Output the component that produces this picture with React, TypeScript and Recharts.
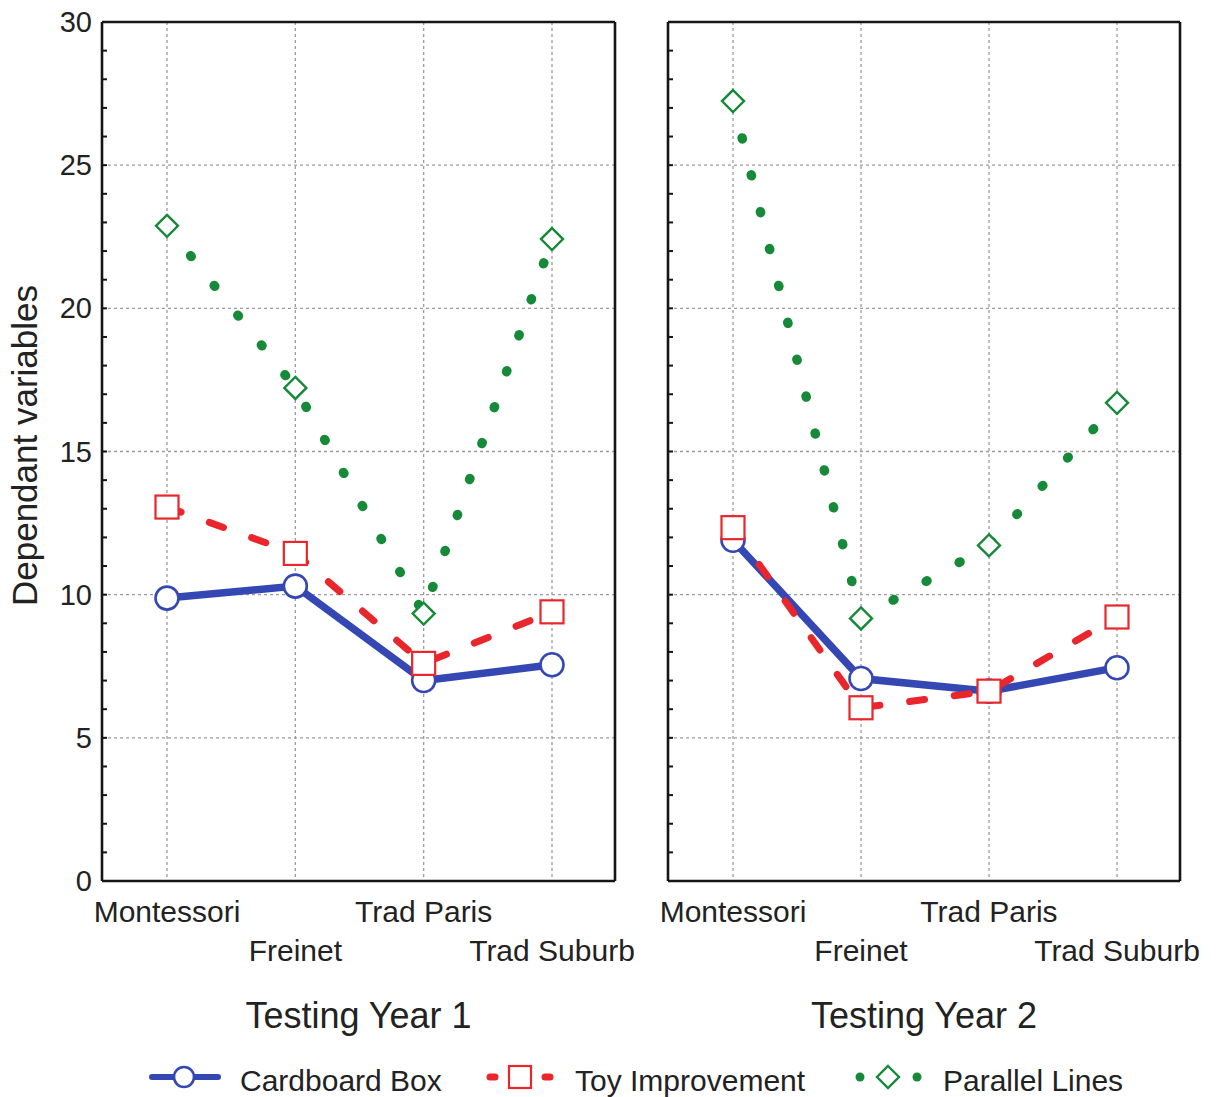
import React from 'react';
import { LineChart, Line, XAxis, YAxis, CartesianGrid, Label } from 'recharts';

const categories = ['Montessori', 'Freinet', 'Trad Paris', 'Trad Suburb'];
const year1Cardboard = [9.88, 10.3, 7.0, 7.55];
const year1Toy = [13.06, 11.44, 7.6, 9.4];
const year1Parallel = [22.88, 17.22, 9.34, 22.42];
const year2Cardboard = [11.9, 7.07, 6.63, 7.45];
const year2Toy = [12.34, 6.05, 6.63, 9.22];
const year2Parallel = [27.24, 9.17, 11.72, 16.7];
const yTicks = [0, 5, 10, 15, 20, 25, 30];
const minorTicks = [0, 1, 2, 3, 4, 5, 6, 7, 8, 9, 10, 11, 12, 13, 14, 15, 16, 17, 18, 19, 20, 21, 22, 23, 24, 25, 26, 27, 28, 29, 30];
const frameTicks = [0, 1];
const panelTitles = ['Testing Year 1', 'Testing Year 2'];
const seriesNames = ['Cardboard Box', 'Toy Improvement', 'Parallel Lines'];
const yAxisTitle = 'Dependant variables';

const FONT = '"Liberation Sans", Arial, Helvetica, sans-serif';
const BLUE = '#3447b3';
const RED = '#e8262b';
const GREEN = '#178a3a';
const FRAME = '#151515';

const buildData = (cb: number[], toy: number[], par: number[]) =>
  categories.map((name, i) => ({ name, cardboard: cb[i], toy: toy[i], parallel: par[i] }));

const year1Data = buildData(year1Cardboard, year1Toy, year1Parallel);
const year2Data = buildData(year2Cardboard, year2Toy, year2Parallel);

const CircleDot = (props: any) => {
  const { cx, cy, index } = props;
  if (cx == null || cy == null) return <g key={`c${index}`} />;
  return <circle key={`c${index}`} cx={cx} cy={cy} r={11.5} fill="#fff" stroke={BLUE} strokeWidth={2.6} />;
};
const SquareDot = (props: any) => {
  const { cx, cy, index } = props;
  if (cx == null || cy == null) return <g key={`s${index}`} />;
  const s = 23;
  return <rect key={`s${index}`} x={cx - s / 2} y={cy - s / 2} width={s} height={s} fill="#fff" stroke={RED} strokeWidth={2.2} />;
};
const DiamondDot = (props: any) => {
  const { cx, cy, index } = props;
  if (cx == null || cy == null) return <g key={`d${index}`} />;
  const h = 11;
  return (
    <polygon
      key={`d${index}`}
      points={`${cx},${cy - h} ${cx + h},${cy} ${cx},${cy + h} ${cx - h},${cy}`}
      fill="#fff"
      stroke={GREEN}
      strokeWidth={2.4}
    />
  );
};

const LABEL_GAP = 10;

const makeLeftTick = (showLabels: boolean) => (props: any) => {
  const { x, y, payload } = props;
  const v = Number(payload.value);
  const axisX = x + LABEL_GAP;
  const isMajor = yTicks.indexOf(v) >= 0;
  return (
    <g>
      <line x1={axisX} y1={y} x2={axisX + 5} y2={y} stroke={FRAME} strokeWidth={2} />
      {showLabels && isMajor ? (
        <text x={x} y={y} dy="0.35em" textAnchor="end" fontSize={29} fontFamily={FONT} fill="#222">
          {v}
        </text>
      ) : null}
    </g>
  );
};

const RightTick = (props: any) => {
  const { x, y } = props;
  return <line x1={x - 5} y1={y} x2={x} y2={y} stroke={FRAME} strokeWidth={2} />;
};

const XTick = (props: any) => {
  const { x, y, payload } = props;
  const idx = categories.indexOf(payload.value);
  const row = idx % 2;
  return (
    <text x={x} y={y + (row === 0 ? 33 : 72)} textAnchor="middle" fontSize={30} fontFamily={FONT} fill="#222">
      {payload.value}
    </text>
  );
};

const YTitle = (props: any) => {
  const vb = props.viewBox || { x: 0, y: 22, width: 102, height: 859 };
  const cx = vb.x + 37;
  const cy = vb.y + vb.height / 2 - 6;
  return (
    <text x={cx} y={cy} transform={`rotate(-90 ${cx} ${cy})`} textAnchor="middle" fontSize={35} fontFamily={FONT} fill="#222">
      {yAxisTitle}
    </text>
  );
};

type PanelProps = {
  data: any[];
  title: string;
  showY: boolean;
  width: number;
  marginLeft: number;
  marginRight: number;
  yWidth: number;
};

const Panel = ({ data, title, showY, width, marginLeft, marginRight, yWidth }: PanelProps) => (
  <LineChart width={width} height={1097} data={data} margin={{ top: 22, right: marginRight, bottom: 66, left: marginLeft }}>
    <CartesianGrid
      xAxisId="main"
      yAxisId="main"
      horizontalValues={yTicks}
      stroke="#9c9c9c"
      strokeDasharray="3 3"
      strokeWidth={1.3}
    />
    <XAxis
      xAxisId="main"
      dataKey="name"
      type="category"
      padding={{ left: 65, right: 63 }}
      height={150}
      interval={0}
      axisLine={{ stroke: FRAME, strokeWidth: 2.6 }}
      tickLine={false}
      tick={<XTick />}
    >
      <Label value={title} position="insideBottom" offset={3} style={{ fontSize: 36, fontFamily: FONT, fill: '#222' }} />
    </XAxis>
    <XAxis
      xAxisId="top"
      orientation="top"
      type="number"
      domain={[0, 1]}
      ticks={frameTicks}
      mirror
      height={1}
      tick={false}
      tickLine={false}
      axisLine={{ stroke: FRAME, strokeWidth: 2.6 }}
    />
    <YAxis
      yAxisId="main"
      type="number"
      domain={[0, 30]}
      ticks={minorTicks}
      interval={0}
      width={yWidth}
      axisLine={{ stroke: FRAME, strokeWidth: 2.6 }}
      tickLine={false}
      tickSize={0}
      tickMargin={LABEL_GAP}
      tick={makeLeftTick(showY)}
    >
      {showY ? <Label content={<YTitle />} /> : null}
    </YAxis>
    <YAxis
      yAxisId="right"
      orientation="right"
      type="number"
      domain={[0, 30]}
      ticks={minorTicks}
      interval={0}
      width={1}
      axisLine={{ stroke: FRAME, strokeWidth: 2.6 }}
      tickLine={false}
      tickSize={0}
      tickMargin={0}
      tick={RightTick}
    />
    <Line
      xAxisId="main"
      yAxisId="main"
      type="linear"
      dataKey="cardboard"
      name={seriesNames[0]}
      stroke={BLUE}
      strokeWidth={7.5}
      dot={CircleDot}
      activeDot={false}
      isAnimationActive={false}
    />
    <Line
      xAxisId="main"
      yAxisId="main"
      type="linear"
      dataKey="toy"
      name={seriesNames[1]}
      stroke={RED}
      strokeWidth={7}
      strokeDasharray="15 30"
      strokeLinecap="round"
      dot={SquareDot}
      activeDot={false}
      isAnimationActive={false}
    />
    <Line
      xAxisId="main"
      yAxisId="main"
      type="linear"
      dataKey="parallel"
      name={seriesNames[2]}
      stroke={GREEN}
      strokeWidth={9.5}
      strokeDasharray="1 37"
      strokeLinecap="round"
      dot={DiamondDot}
      activeDot={false}
      isAnimationActive={false}
    />
  </LineChart>
);

const legendStarts = [152, 487, 855];

const LegendIcon = ({ i, x0 }: { i: number; x0: number }) => {
  const cy = 22;
  if (i === 0) {
    return (
      <g>
        <line x1={x0} y1={cy} x2={x0 + 66} y2={cy} stroke={BLUE} strokeWidth={6} strokeLinecap="round" />
        <circle cx={x0 + 32} cy={cy} r={10} fill="#fff" stroke={BLUE} strokeWidth={2.6} />
      </g>
    );
  }
  if (i === 1) {
    return (
      <g>
        <line x1={x0 + 3} y1={cy} x2={x0 + 8} y2={cy} stroke={RED} strokeWidth={7} strokeLinecap="round" />
        <line x1={x0 + 58} y1={cy} x2={x0 + 63} y2={cy} stroke={RED} strokeWidth={7} strokeLinecap="round" />
        <rect x={x0 + 22} y={cy - 11} width={22} height={22} fill="#fff" stroke={RED} strokeWidth={2.2} />
      </g>
    );
  }
  return (
    <g>
      <circle cx={x0 + 5} cy={cy} r={4.5} fill={GREEN} />
      <circle cx={x0 + 62} cy={cy} r={4.5} fill={GREEN} />
      <polygon
        points={`${x0 + 33},${cy - 11} ${x0 + 44},${cy} ${x0 + 33},${cy + 11} ${x0 + 22},${cy}`}
        fill="#fff"
        stroke={GREEN}
        strokeWidth={2.4}
      />
    </g>
  );
};

export default function App() {
  return (
    <div style={{ position: 'absolute', left: 0, top: 0, width: 1220, height: 1097, background: '#fff', overflow: 'hidden' }}>
      <div style={{ position: 'absolute', left: 0, top: 0 }}>
        <Panel data={year1Data} title={panelTitles[0]} showY width={640} marginLeft={0} marginRight={24} yWidth={102} />
      </div>
      <div style={{ position: 'absolute', left: 640, top: 0 }}>
        <Panel data={year2Data} title={panelTitles[1]} showY={false} width={580} marginLeft={27} marginRight={39} yWidth={1} />
      </div>
      <svg style={{ position: 'absolute', left: 0, top: 1055 }} width={1220} height={42}>
        {seriesNames.map((n, i) => (
          <g key={n}>
            <LegendIcon i={i} x0={legendStarts[i]} />
            <text x={legendStarts[i] + 88} y={36} fontSize={30} fontFamily={FONT} fill="#222">
              {n}
            </text>
          </g>
        ))}
      </svg>
    </div>
  );
}
